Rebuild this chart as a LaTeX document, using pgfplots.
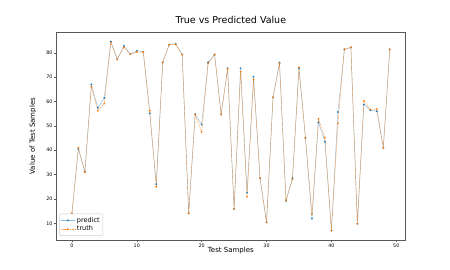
\documentclass[border=0pt]{standalone}
\usepackage{pgfplots}
\pgfplotsset{compat=1.18}
\usepackage{fontspec}
\setmainfont{DejaVu Sans}
\definecolor{tabblue}{HTML}{1F77B4}
\definecolor{taborange}{HTML}{FF7F0E}
\pgfplotstableread{
i pred truth
0 13.8 14.2
1 40.5 41.0
2 31.2 31.0
3 67.0 66.0
4 57.4 56.2
5 61.5 59.2
6 84.6 84.2
7 77.3 77.3
8 82.8 82.2
9 79.5 79.4
10 80.8 80.3
11 80.4 80.3
12 55.1 56.2
13 26.1 25.0
14 76.0 76.1
15 83.3 83.3
16 83.7 83.4
17 79.3 79.2
18 14.1 14.1
19 54.8 54.6
20 50.5 47.5
21 76.1 75.6
22 79.2 79.3
23 54.7 54.7
24 73.6 73.4
25 15.9 16.0
26 73.6 72.2
27 22.6 20.9
28 70.2 69.1
29 28.5 28.5
30 10.4 10.4
31 61.7 61.7
32 75.9 75.5
33 19.2 19.5
34 28.5 28.0
35 73.6 74.1
36 45.1 45.1
37 11.9 13.8
38 51.4 52.9
39 43.5 45.1
40 7.0 7.0
41 55.7 51.0
42 81.4 81.4
43 82.2 82.2
44 9.8 9.8
45 58.8 60.2
46 56.4 56.8
47 56.0 56.9
48 41.0 41.0
49 81.4 81.4
}\datatable
\begin{document}
\begin{tikzpicture}[x=1pt,y=1pt]
\path[use as bounding box] (0,0) rectangle (450,270);
\begin{axis}[
  at={(56pt,30pt)}, anchor=south west,
  scale only axis, width=349.7pt, height=207.7pt,
  xmin=-2.45, xmax=51.45, ymin=3.15, ymax=88.4,
  xtick={0,10,...,50}, ytick={10,20,...,80},
  tick align=outside, xtick pos=bottom, ytick pos=left,
  major tick length=2.2pt,
  axis line style={black!65, line width=0.5pt},
  every tick/.style={black!65, line width=0.4pt},
  tick label style={font=\fontsize{4.8}{5.5}\selectfont, inner sep=1.2pt},
  /pgf/number format/assume math mode=true,
  title={True vs Predicted Value},
  title style={font=\fontsize{9.5}{11}\selectfont, at={(axis description cs:0.5,1)}, anchor=base, yshift=2.3pt},
  xlabel={Test Samples},
  xlabel style={font=\fontsize{7}{8}\selectfont, at={(axis description cs:0.5,-0.053)}, anchor=center},
  ylabel={Value of Test Samples},
  ylabel style={font=\fontsize{7}{8}\selectfont, at={(axis description cs:-0.066,0.5)}, anchor=center},
  legend style={at={(axis description cs:0.009,0.02)}, anchor=south west,
    font=\fontsize{6.5}{7.5}\selectfont, draw=black!20, rounded corners=1.5pt,
    inner sep=1.2pt, row sep=-1.5pt},
  legend cell align=left,
  legend image code/.code={\draw[mark repeat=2,mark phase=2,#1] plot coordinates {(0pt,0pt) (7pt,0pt) (14pt,0pt)};},
]
\addplot[tabblue, line width=0.45pt, draw opacity=0.5, mark=*, mark size=0.7pt, mark options={solid, opacity=0.9}] table[x=i,y=pred] {\datatable};
\addlegendentry{predict}
\addplot[taborange, line width=0.45pt, draw opacity=0.8, dash pattern=on 1.5pt off 0.8pt, mark=*, mark size=0.7pt, mark options={solid, opacity=0.9}] table[x=i,y=truth] {\datatable};
\addlegendentry{truth}
\end{axis}
\end{tikzpicture}
\end{document}
